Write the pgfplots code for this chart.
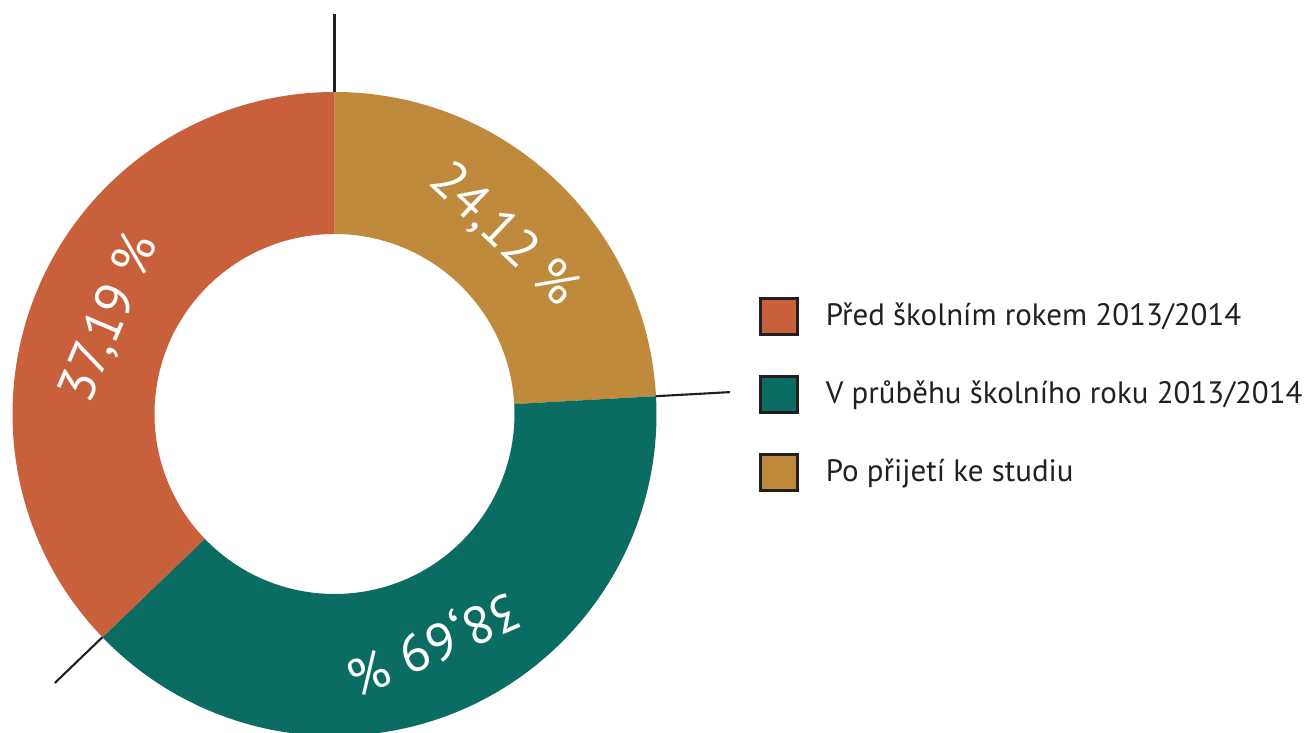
\documentclass[border=0pt]{standalone}
\usepackage{fontspec}
\setmainfont{PT Sans}
\usepackage{pgfplots}
\usepackage{pgfplotstable}
\pgfplotsset{compat=1.18}

\definecolor{cOrange}{HTML}{C8613B}
\definecolor{cTeal}{HTML}{0B6C62}
\definecolor{cTan}{HTML}{BF8A3C}
\definecolor{cText}{HTML}{231F20}

% shares in percent, clockwise from the top
\pgfplotstableread{
share
24.12
38.69
37.19
}\sharetable

\begin{document}
\begin{tikzpicture}
\pgfplotstablegetelem{0}{share}\of\sharetable \let\sA\pgfplotsretval
\pgfplotstablegetelem{1}{share}\of\sharetable \let\sB\pgfplotsretval
\pgfplotstablegetelem{2}{share}\of\sharetable \let\sC\pgfplotsretval
\pgfmathsetmacro\aA{90}
\pgfmathsetmacro\aB{\aA-3.6*\sA}
\pgfmathsetmacro\aC{\aB-3.6*\sB}
\pgfmathsetmacro\aD{\aC-3.6*\sC}
\pgfmathsetmacro\mA{(\aA+\aB)/2}
\pgfmathsetmacro\mB{(\aB+\aC)/2}
\pgfmathsetmacro\mC{(\aC+\aD)/2}
\def\ro{3.22}
\def\ri{1.80}
\pgfmathsetmacro\rw{\ro-\ri}
\def\cen{(axis cs:3.345,3.19)}
\begin{axis}[
    x=1cm, y=1cm,
    xmin=0, xmax=13.07, ymin=0, ymax=7.33,
    hide axis, clip=true,
    legend cell align=left,
    legend style={at={(axis cs:7.48,4.45)}, anchor=north west, draw=none, fill=none,
        font=\fontsize{8.8}{10.5}\selectfont, text=cText, row sep=0.36cm,
        nodes={inner xsep=0.27cm}},
    legend image code/.code={\draw[#1, draw=cText, line width=0.75pt] (0cm,-0.18cm) rectangle (0.37cm,0.18cm);},
]
% donut slices
\fill[cTan] \cen ++(\aA:\ro) arc[start angle=\aA, end angle=\aB, radius=\ro] -- ++(\aB:-\rw) arc[start angle=\aB, end angle=\aA, radius=\ri] -- cycle;
\fill[cTeal] \cen ++(\aB:\ro) arc[start angle=\aB, end angle=\aC, radius=\ro] -- ++(\aC:-\rw) arc[start angle=\aC, end angle=\aB, radius=\ri] -- cycle;
\fill[cOrange] \cen ++(\aC:\ro) arc[start angle=\aC, end angle=\aD, radius=\ro] -- ++(\aD:-\rw) arc[start angle=\aD, end angle=\aC, radius=\ri] -- cycle;
% leader lines
\draw[cText, line width=0.6pt] \cen ++(\aA:\ro) -- ++(\aA:0.78);
\draw[cText, line width=0.6pt] \cen ++(\aB:\ro) -- ++(\aB:0.74);
\draw[cText, line width=0.6pt] \cen ++(\aC:\ro) -- ++(\aC:0.66);
% labels
\node[white, font=\fontsize{15}{18}\selectfont, rotate=\mA-90] at ([shift={(\mA:2.46)}]axis cs:3.345,3.19) {24,12 \%};
\node[white, font=\fontsize{15}{18}\selectfont, rotate=\mB-90] at ([shift={(\mB:2.48)}]axis cs:3.345,3.19) {38,69 \%};
\node[white, font=\fontsize{15}{18}\selectfont, rotate=\mC-90] at ([shift={(\mC:2.44)}]axis cs:3.345,3.19) {37,19 \%};
% legend
\addlegendimage{fill=cOrange}
\addlegendentry{Před školním rokem 2013/2014}
\addlegendimage{fill=cTeal}
\addlegendentry{V průběhu školního roku 2013/2014}
\addlegendimage{fill=cTan}
\addlegendentry{Po přijetí ke studiu}
\end{axis}
\pgfresetboundingbox
\path (0,0) rectangle (13.07,7.33);
\end{tikzpicture}
\end{document}
